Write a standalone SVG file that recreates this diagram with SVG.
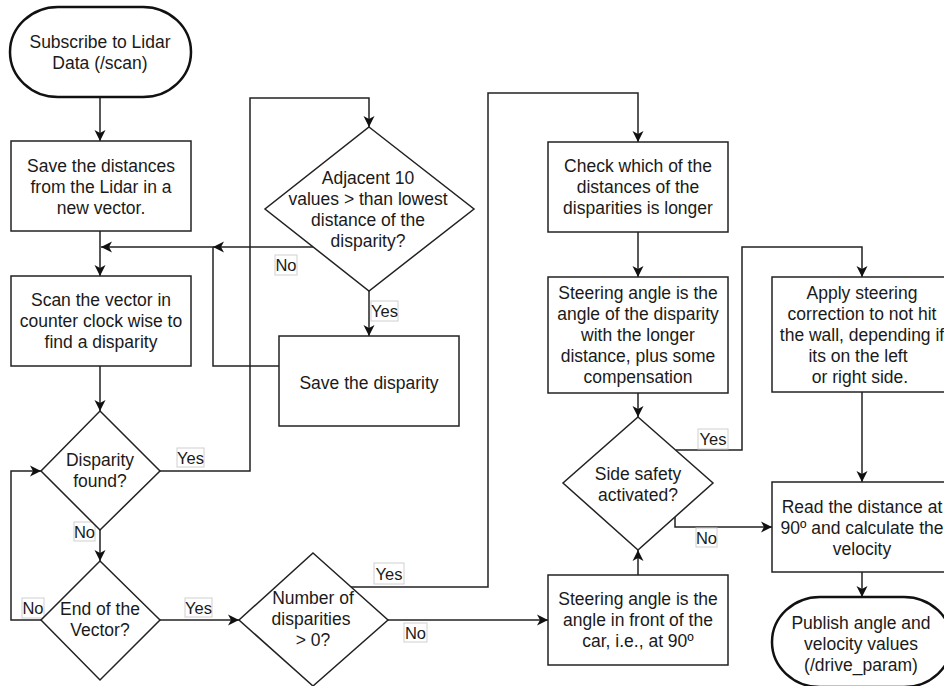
<svg xmlns="http://www.w3.org/2000/svg" width="944" height="686" viewBox="0 0 944 686">
<style>
.sh{fill:#fff;stroke:#222;stroke-width:1.5}
.term{fill:#fff;stroke:#111;stroke-width:2.5}
.t{font-family:"Liberation Sans",Arial,sans-serif;font-size:17.5px;fill:#1a1a1a;text-anchor:middle}
.c{fill:none;stroke:#222;stroke-width:1.5;marker-end:url(#ah)}
.lb{fill:#fff;stroke:#d0d0d0;stroke-width:1}
.lt{font-family:"Liberation Sans",Arial,sans-serif;font-size:16.5px;fill:#1a1a1a;text-anchor:middle}
</style>
<defs>
<marker id="ah" markerUnits="userSpaceOnUse" markerWidth="12" markerHeight="12" viewBox="0 0 12 12" refX="11" refY="6" orient="auto">
<path d="M0,0.5 L11,6 L0,11.5 L3,6 z" fill="#111"/>
</marker>
</defs>
<rect width="944" height="686" fill="#fff"/>

<g id="connectors">
<path class="c" d="M100,97 V141"/>
<path class="c" d="M100,231 V276"/>
<path class="c" d="M100,366 V411"/>
<path class="c" d="M100,530 V561"/>
<path class="c" d="M41,620 H11 V471 H41"/>
<path class="c" d="M160,620 H239"/>
<path class="c" d="M160,471 H250 V98 H369 V127"/>
<path class="c" d="M369,291 V336"/>
<path class="c" d="M313,247 H213"/>
<path class="c" d="M279,366 H213 V247 H101"/>
<path class="c" d="M351,587 H488 V93 H638 V142"/>
<path class="c" d="M388,620 H548"/>
<path class="c" d="M638,232 V277"/>
<path class="c" d="M638,393 V417"/>
<path class="c" d="M638,575 V550"/>
<path class="c" d="M676,450 H742 V247 H862 V277"/>
<path class="c" d="M675,517 V527 H772"/>
<path class="c" d="M862,392 V482"/>
<path class="c" d="M862,572 V597"/>
</g>

<g id="labels">
<rect class="lb" x="275" y="255" width="22" height="20"/><text class="lt" x="286" y="271">No</text>
<rect class="lb" x="371" y="301" width="27" height="20"/><text class="lt" x="384.5" y="317">Yes</text>
<rect class="lb" x="177" y="448" width="27" height="19"/><text class="lt" x="190.5" y="463.5">Yes</text>
<rect class="lb" x="74" y="522" width="21" height="19"/><text class="lt" x="84.5" y="537.5">No</text>
<rect class="lb" x="22" y="598" width="22" height="20"/><text class="lt" x="33" y="614">No</text>
<rect class="lb" x="185" y="598" width="27" height="19"/><text class="lt" x="198.5" y="613.5">Yes</text>
<rect class="lb" x="374" y="563" width="30" height="21"/><text class="lt" x="389" y="579.5">Yes</text>
<rect class="lb" x="404" y="623" width="23" height="19"/><text class="lt" x="415.5" y="638.5">No</text>
<rect class="lb" x="698" y="429" width="30" height="20"/><text class="lt" x="713" y="445">Yes</text>
<rect class="lb" x="696" y="528" width="21" height="19"/><text class="lt" x="706.5" y="543.5">No</text>
</g>

<g id="start">
<rect class="term" x="10" y="7" width="181" height="90" rx="48" ry="45"/>
<text class="t" x="100" y="48">Subscribe to Lidar</text>
<text class="t" x="100" y="69">Data (/scan)</text>
</g>

<g id="save-distances">
<rect class="sh" x="11" y="141" width="180" height="90"/>
<text class="t" x="101" y="172">Save the distances</text>
<text class="t" x="101" y="193">from the Lidar in a</text>
<text class="t" x="101" y="214">new vector.</text>
</g>

<g id="scan-vector">
<rect class="sh" x="11" y="276" width="180" height="90"/>
<text class="t" x="101" y="306">Scan the vector in</text>
<text class="t" x="101" y="327">counter clock wise to</text>
<text class="t" x="101" y="348">find a disparity</text>
</g>

<g id="adjacent">
<polygon class="sh" points="369,127 474,209 369,291 265,209"/>
<text class="t" x="368" y="184">Adjacent 10</text>
<text class="t" x="368" y="205">values &gt; than lowest</text>
<text class="t" x="368" y="226">distance of the</text>
<text class="t" x="368" y="247">disparity?</text>
</g>

<g id="save-disparity">
<rect class="sh" x="279" y="336" width="180" height="90"/>
<text class="t" x="369" y="389">Save the disparity</text>
</g>

<g id="disparity-found">
<polygon class="sh" points="100,411 160,471 100,530 41,471"/>
<text class="t" x="100" y="466">Disparity</text>
<text class="t" x="100" y="487">found?</text>
</g>

<g id="end-vector">
<polygon class="sh" points="100,561 160,620 100,680 41,620"/>
<text class="t" x="100" y="615">End of the</text>
<text class="t" x="100" y="636">Vector?</text>
</g>

<g id="number-disparities">
<polygon class="sh" points="313,553 388,620 313,686 239,620"/>
<text class="t" x="313" y="604">Number of</text>
<text class="t" x="311" y="625">disparities</text>
<text class="t" x="313" y="646">&gt; 0?</text>
</g>

<g id="check-longer">
<rect class="sh" x="548" y="142" width="180" height="90"/>
<text class="t" x="638" y="172">Check which of the</text>
<text class="t" x="638" y="193">distances of the</text>
<text class="t" x="638" y="214">disparities is longer</text>
</g>

<g id="steering-disparity">
<rect class="sh" x="548" y="277" width="180" height="116"/>
<text class="t" x="638" y="299">Steering angle is the</text>
<text class="t" x="638" y="320">angle of the disparity</text>
<text class="t" x="638" y="341">with the longer</text>
<text class="t" x="638" y="362">distance, plus some</text>
<text class="t" x="638" y="383">compensation</text>
</g>

<g id="side-safety">
<polygon class="sh" points="638,417 713,483 638,550 563,483"/>
<text class="t" x="638" y="480">Side safety</text>
<text class="t" x="638" y="501">activated?</text>
</g>

<g id="steering-front">
<rect class="sh" x="548" y="575" width="180" height="90"/>
<text class="t" x="638" y="605">Steering angle is the</text>
<text class="t" x="638" y="626">angle in front of the</text>
<text class="t" x="638" y="647">car, i.e., at 90º</text>
</g>

<g id="apply-correction">
<rect class="sh" x="772" y="277" width="180" height="115"/>
<text class="t" x="862" y="299">Apply steering</text>
<text class="t" x="862" y="320">correction to not hit</text>
<text class="t" x="862" y="341">the wall, depending if</text>
<text class="t" x="858" y="362">its on the left</text>
<text class="t" x="860" y="383">or right side.</text>
</g>

<g id="read-distance">
<rect class="sh" x="772" y="482" width="180" height="90"/>
<text class="t" x="862" y="513">Read the distance at</text>
<text class="t" x="862" y="534">90º and calculate the</text>
<text class="t" x="862" y="555">velocity</text>
</g>

<g id="publish">
<rect class="term" x="772" y="597" width="180" height="90" rx="48" ry="45"/>
<text class="t" x="861" y="629">Publish angle and</text>
<text class="t" x="861" y="650">velocity values</text>
<text class="t" x="861" y="671">(/drive_param)</text>
</g>
</svg>
